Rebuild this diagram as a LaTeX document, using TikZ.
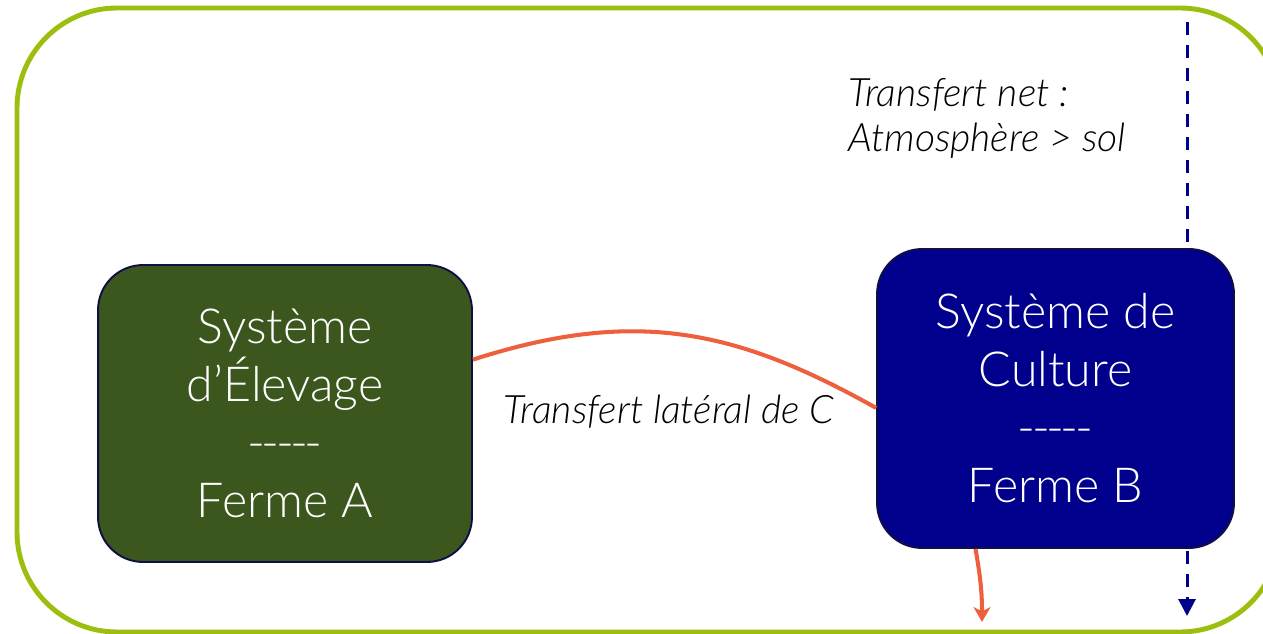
\documentclass[tikz,border=0pt]{standalone}
\usepackage{fontspec}
\setmainfont{Lato}[UprightFont={* Light},ItalicFont={* Light Italic}]
\usepackage{xcolor}
\usetikzlibrary{arrows.meta,positioning}
\definecolor{framegreen}{RGB}{155,190,15}
\definecolor{elevgreen}{RGB}{59,87,29}
\definecolor{cultblue}{RGB}{0,0,140}
\definecolor{flowred}{RGB}{238,95,62}
\definecolor{edgenavy}{RGB}{15,15,70}
\newcommand{\sepdash}{\mbox{-}\kern-2pt\mbox{-}\kern-2pt\mbox{-}\kern-2pt\mbox{-}\kern-2pt\mbox{-}}

\begin{document}
\begin{tikzpicture}[x=0.02cm,y=-0.02cm,
        farm/.style={draw=edgenavy, line width=1.1pt, rounded corners=0.9cm, text=white, align=center, inner sep=0pt, font=\fontsize{27.5}{33}\selectfont},
        flow/.style={draw=flowred, line width=2.3pt},
        note/.style={inner sep=0pt, text=black, font=\fontsize{22.3}{25.6}\selectfont\itshape}]
                        \clip (0,0) rectangle (1263,634);
                        \draw[framegreen, line width=2.8pt, rounded corners=2cm] (17,8) rectangle (1280,632);
                        \coordinate (sky) at (1187,22);
                        \coordinate (soil) at (1187,616);
                        \draw[cultblue, line width=1.7pt, dash pattern=on 7.4pt off 5.7pt, -{Triangle[width=9.6pt,length=9.6pt]}] (sky) -- (soil);
                        \node[farm, fill=elevgreen, minimum width=7.48cm, minimum height=5.94cm] (elevage) at (285,413.5) {Système\\d’Élevage\\\sepdash\\Ferme A};
                        \node[farm, fill=cultblue, minimum width=7.14cm, minimum height=5.98cm] (culture) at (1055.5,398.5) {Système de\\Culture\\\sepdash\\Ferme B};
                        \coordinate (loss) at (982,622);
                        \draw[flow] (elevage.16) .. controls (635,307.5) and (736,329.4) .. (culture.183);
                        \draw[flow, -{Stealth[length=8.5pt,width=9.6pt,inset=2.5pt]}] (culture.242) .. controls (980,575) and (982,590) .. (loss);
                        \node[note] (lateral) at (669,412) {Transfert latéral de C};
                        \node[note, anchor=west, align=left] (net) at (848,118) {Transfert net :\\Atmosphère > sol};
                        \end{tikzpicture}
\end{document}
